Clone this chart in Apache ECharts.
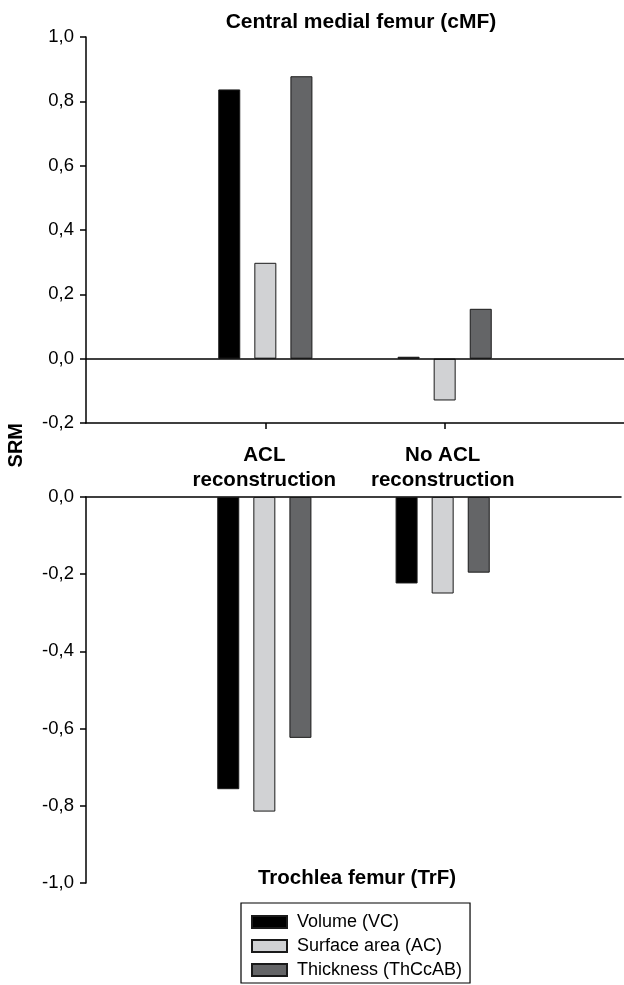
<!DOCTYPE html>
<html>
<head>
<meta charset="utf-8">
<script src="https://cdn.jsdelivr.net/npm/echarts@6/dist/echarts.min.js"></script>
<style>html,body{margin:0;padding:0;background:#fff;}#c{width:624px;height:985px;}</style>
</head>
<body>
<div id="c"></div>
<script>
const categories = ['', 'ACL\nreconstruction', 'No ACL\nreconstruction', ''];
const seriesNames = ['Volume (VC)', 'Surface area (AC)', 'Thickness (ThCcAB)'];
const cMF_volume = [null, 0.837, 0.006, null];
const cMF_surface = [null, 0.298, -0.13, null];
const cMF_thickness = [null, 0.878, 0.155, null];
const TrF_volume = [null, -0.757, -0.224, null];
const TrF_surface = [null, -0.815, -0.25, null];
const TrF_thickness = [null, -0.624, -0.196, null];
const topTicks = [-0.2, 0.0, 0.2, 0.4, 0.6, 0.8, 1.0];
const bottomTicks = [-1.0, -0.8, -0.6, -0.4, -0.2, 0.0];

const FONT = "'Liberation Sans', Arial, sans-serif";
const colors = ['#000000', '#d1d2d4', '#646567'];
const fmt = v => v.toFixed(1).replace('.', ',');

const chart = echarts.init(document.getElementById('c'), null, {renderer: 'canvas'});

function yAxisCfg(gridIndex, ticks) {
  return {
    type: 'value', gridIndex,
    min: ticks[0], max: ticks[ticks.length - 1], interval: 0.2,
    axisLine: {show: true, onZero: false, lineStyle: {color: '#000', width: 1.5}},
    axisTick: {show: true, length: 6, lineStyle: {color: '#000', width: 1.5}},
    splitLine: {show: false},
    axisLabel: {formatter: fmt, fontFamily: FONT, fontSize: 18.5, color: '#000', margin: 12}
  };
}

function barSeries(name, data, idx, xi, yi, withZero) {
  const s = {
    name, type: 'bar', data, xAxisIndex: xi, yAxisIndex: yi,
    barWidth: 22, barGap: '64%',
    itemStyle: {color: colors[idx], borderColor: '#1a1a1a', borderWidth: 1},
    emphasis: {disabled: true}
  };
  if (withZero) {
    s.markLine = {
      silent: true, symbol: 'none', label: {show: false},
      lineStyle: {color: '#000', width: 1.5, type: 'solid'},
      data: [{yAxis: 0}]
    };
  }
  return s;
}

const option = {
  animation: false,
  backgroundColor: '#fff',
  title: [
    {text: 'Central medial femur (cMF)', left: 356, top: 7, textAlign: 'center',
     textStyle: {fontFamily: FONT, fontSize: 21, fontWeight: 'bold', color: '#000'}},
    {text: 'Trochlea femur (TrF)', left: 352, top: 863, textAlign: 'center',
     textStyle: {fontFamily: FONT, fontSize: 20.5, fontWeight: 'bold', color: '#000'}}
  ],
  graphic: [{
    type: 'text', left: 6, top: 423, rotation: Math.PI / 2,
    style: {text: 'SRM', font: "bold 20px 'Liberation Sans', Arial, sans-serif", fill: '#000'},
    originX: 0, originY: 0
  }],
  legend: {
    orient: 'vertical', left: 241, top: 903,
    data: seriesNames,
    icon: 'rect', itemWidth: 35, itemHeight: 12, itemGap: 6,
    padding: [10, 8, 4, 10],
    borderColor: '#000', borderWidth: 1.2,
    textStyle: {fontFamily: FONT, fontSize: 18, color: '#000', lineHeight: 18, padding: [0, 0, 0, 5]},
    selectedMode: false
  },
  grid: [
    {left: 86, right: 0, top: 37, height: 386},
    {left: 86, right: 0, top: 497, height: 386}
  ],
  xAxis: [
    {type: 'category', gridIndex: 0, data: categories, boundaryGap: false, position: 'bottom',
     axisLine: {show: true, onZero: false, lineStyle: {color: '#000', width: 1.5}},
     axisTick: {show: true, length: 6, inside: false, interval: (i) => i === 1 || i === 2,
                lineStyle: {color: '#000', width: 1.5}},
     axisLabel: {show: false}, splitLine: {show: false}},
    {type: 'category', gridIndex: 1, data: categories, boundaryGap: false, position: 'top',
     axisLine: {show: true, onZero: false, lineStyle: {color: '#000', width: 1.5}},
     axisTick: {show: false},
     axisLabel: {show: true, interval: 0, fontFamily: FONT, fontSize: 20.5, fontWeight: 'bold',
                 color: '#000', lineHeight: 25, margin: 4},
     splitLine: {show: false}}
  ],
  yAxis: [yAxisCfg(0, topTicks), yAxisCfg(1, bottomTicks)],
  series: [
    barSeries(seriesNames[0], cMF_volume, 0, 0, 0, true),
    barSeries(seriesNames[1], cMF_surface, 1, 0, 0, false),
    barSeries(seriesNames[2], cMF_thickness, 2, 0, 0, false),
    barSeries(seriesNames[0], TrF_volume, 0, 1, 1, false),
    barSeries(seriesNames[1], TrF_surface, 1, 1, 1, false),
    barSeries(seriesNames[2], TrF_thickness, 2, 1, 1, false)
  ]
};
chart.setOption(option);
</script>
</body>
</html>
